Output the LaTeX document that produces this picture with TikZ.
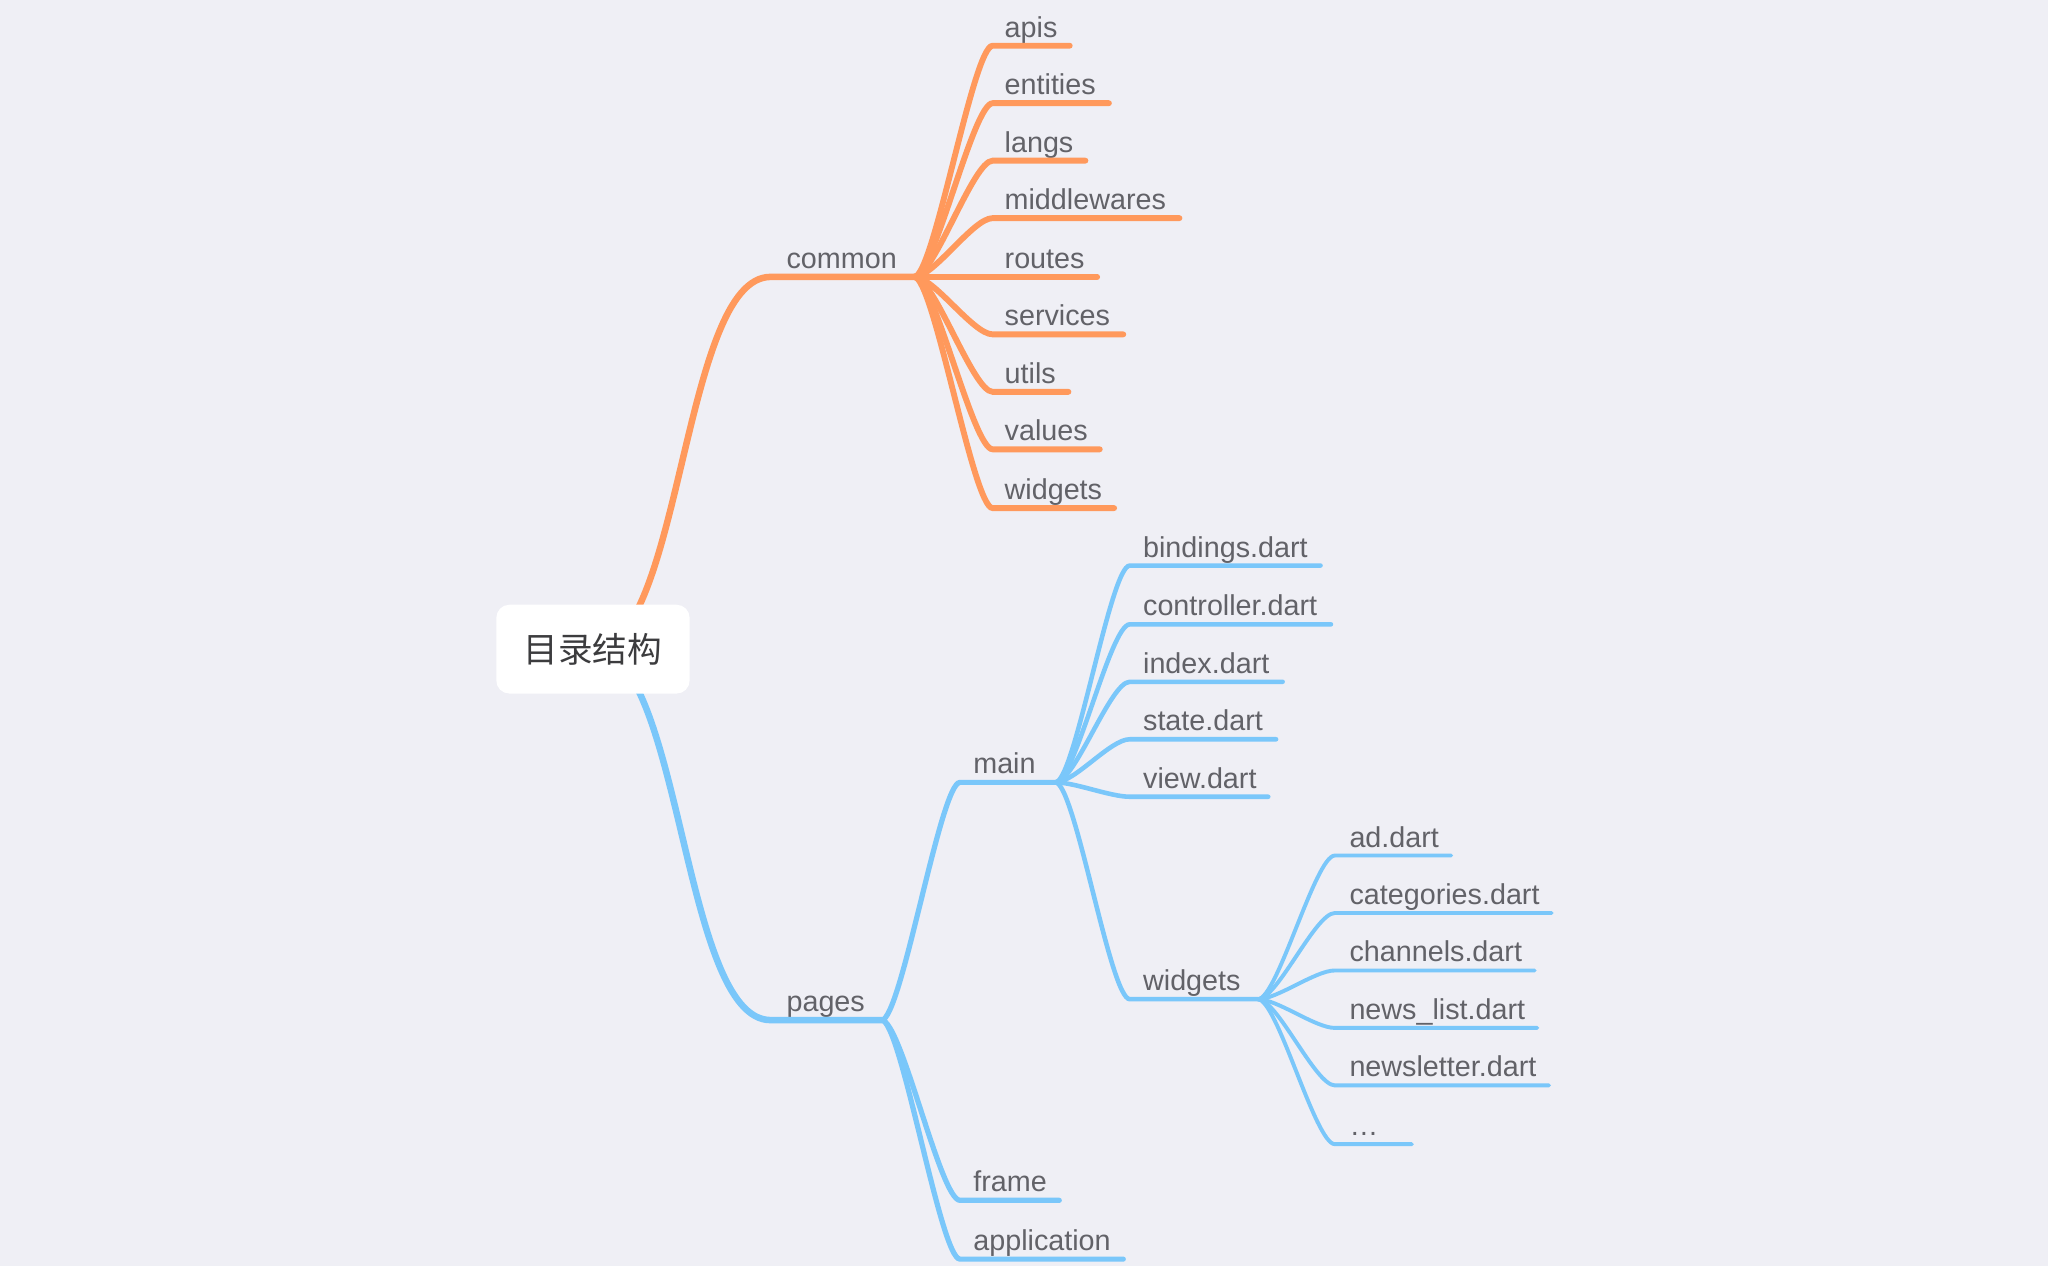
\documentclass[tikz,border=0pt]{standalone}
\usepackage{fontspec}
\setmainfont{Liberation Sans}
\newfontfamily\cjkfont{Noto Sans CJK SC}
\usepackage{tikz}

\definecolor{bgcol}{RGB}{239,239,245}
\definecolor{labelgray}{RGB}{98,98,104}
\definecolor{rootgray}{RGB}{60,60,62}
\definecolor{branchorange}{RGB}{255,153,92}
\definecolor{branchblue}{RGB}{122,199,250}

\tikzset{
  topic/.style={anchor=base west, inner sep=0pt, text=labelgray, font=\fontsize{22}{26}\selectfont},
  rootbox/.style={rectangle, fill=white, rounded corners=10pt, minimum width=148pt, minimum height=68pt,
    text=rootgray, font=\cjkfont\fontsize{26.5}{30}\selectfont},
  orangemain/.style={draw=branchorange, line width=5pt, line cap=round},
  orangesub/.style={draw=branchorange, line width=4.5pt, line cap=round},
  bluemain/.style={draw=branchblue, line width=5pt, line cap=round},
  bluesub/.style={draw=branchblue, line width=4pt, line cap=round},
  bluefile/.style={draw=branchblue, line width=3.5pt, line cap=round},
  bluewidget/.style={draw=branchblue, line width=3pt, line cap=round}
}

\begin{document}
\begin{tikzpicture}[x=1pt, y=-1pt]
    \fill[bgcol] (0,0) rectangle (1568,969.3);
    \useasboundingbox (0,0) rectangle (1568,969.3);

    % centre of the root box
    \coordinate (hub) at (454,497);

    % first level
    \node[topic] (common) at (602,205.5) {common};
    \coordinate (common-a) at (590,212); \coordinate (common-b) at (700,212);
    \node[topic] (pages) at (602,774.5) {pages};
    \coordinate (pages-a) at (590,781); \coordinate (pages-b) at (675,781);

    \draw[orangemain] (hub) .. controls +(68,0) and +(-68,0) .. (common-a) -- (common-b);
    \draw[bluemain] (hub) .. controls +(68,0) and +(-68,0) .. (pages-a) -- (pages-b);

    % common
    \node[topic] (apis) at (769,28.5) {apis};
    \coordinate (apis-a) at (760,35); \coordinate (apis-b) at (819,35);
    \node[topic] (entities) at (769,72.5) {entities};
    \coordinate (entities-a) at (760,79); \coordinate (entities-b) at (849,79);
    \node[topic] (langs) at (769,116.5) {langs};
    \coordinate (langs-a) at (760,123); \coordinate (langs-b) at (831,123);
    \node[topic] (middlewares) at (769,160.5) {middlewares};
    \coordinate (middlewares-a) at (760,167); \coordinate (middlewares-b) at (903,167);
    \node[topic] (routes) at (769,205.5) {routes};
    \coordinate (routes-a) at (760,212); \coordinate (routes-b) at (840,212);
    \node[topic] (services) at (769,249.5) {services};
    \coordinate (services-a) at (760,256); \coordinate (services-b) at (860,256);
    \node[topic] (utils) at (769,293.5) {utils};
    \coordinate (utils-a) at (760,300); \coordinate (utils-b) at (818,300);
    \node[topic] (values) at (769,337.5) {values};
    \coordinate (values-a) at (760,344); \coordinate (values-b) at (842,344);
    \node[topic] (cwidgets) at (769,382.5) {widgets};
    \coordinate (cwidgets-a) at (760,389); \coordinate (cwidgets-b) at (853,389);

    \draw[orangesub] (common-b) .. controls +(15,0) and +(-15,0) .. (apis-a) -- (apis-b);
    \draw[orangesub] (common-b) .. controls +(15,0) and +(-15,0) .. (entities-a) -- (entities-b);
    \draw[orangesub] (common-b) .. controls +(15,0) and +(-15,0) .. (langs-a) -- (langs-b);
    \draw[orangesub] (common-b) .. controls +(15,0) and +(-15,0) .. (middlewares-a) -- (middlewares-b);
    \draw[orangesub] (common-b) -- (routes-a) -- (routes-b);
    \draw[orangesub] (common-b) .. controls +(15,0) and +(-15,0) .. (services-a) -- (services-b);
    \draw[orangesub] (common-b) .. controls +(15,0) and +(-15,0) .. (utils-a) -- (utils-b);
    \draw[orangesub] (common-b) .. controls +(15,0) and +(-15,0) .. (values-a) -- (values-b);
    \draw[orangesub] (common-b) .. controls +(15,0) and +(-15,0) .. (cwidgets-a) -- (cwidgets-b);

    % pages
    \node[topic] (main) at (745,592.5) {main};
    \coordinate (main-a) at (735,599); \coordinate (main-b) at (808,599);
    \node[topic] (frame) at (745,912.5) {frame};
    \coordinate (frame-a) at (735,919); \coordinate (frame-b) at (811,919);
    \node[topic] (application) at (745,957.5) {application};
    \coordinate (application-a) at (735,964); \coordinate (application-b) at (860,964);

    \draw[bluesub] (pages-b) .. controls +(15,0) and +(-15,0) .. (main-a) -- (main-b);
    \draw[bluesub] (pages-b) .. controls +(15,0) and +(-15,0) .. (frame-a) -- (frame-b);
    \draw[bluesub] (pages-b) .. controls +(15,0) and +(-15,0) .. (application-a) -- (application-b);

    % main
    \node[topic] (bindings) at (875,426.5) {bindings.dart};
    \coordinate (bindings-a) at (865,433); \coordinate (bindings-b) at (1011,433);
    \node[topic] (controller) at (875,471.5) {controller.dart};
    \coordinate (controller-a) at (865,478); \coordinate (controller-b) at (1019,478);
    \node[topic] (index) at (875,515.5) {index.dart};
    \coordinate (index-a) at (865,522); \coordinate (index-b) at (982,522);
    \node[topic] (state) at (875,559.5) {state.dart};
    \coordinate (state-a) at (865,566); \coordinate (state-b) at (977,566);
    \node[topic] (view) at (875,603.5) {view.dart};
    \coordinate (view-a) at (865,610); \coordinate (view-b) at (971,610);
    \node[topic] (mwidgets) at (875,758.5) {widgets};
    \coordinate (mwidgets-a) at (865,765); \coordinate (mwidgets-b) at (963,765);

    \draw[bluefile] (main-b) .. controls +(15,0) and +(-15,0) .. (bindings-a) -- (bindings-b);
    \draw[bluefile] (main-b) .. controls +(15,0) and +(-15,0) .. (controller-a) -- (controller-b);
    \draw[bluefile] (main-b) .. controls +(15,0) and +(-15,0) .. (index-a) -- (index-b);
    \draw[bluefile] (main-b) .. controls +(15,0) and +(-15,0) .. (state-a) -- (state-b);
    \draw[bluefile] (main-b) .. controls +(15,0) and +(-15,0) .. (view-a) -- (view-b);
    \draw[bluefile] (main-b) .. controls +(15,0) and +(-15,0) .. (mwidgets-a) -- (mwidgets-b);

    % widgets of main
    \node[topic] (ad) at (1033,648.5) {ad.dart};
    \coordinate (ad-a) at (1022,655); \coordinate (ad-b) at (1111,655);
    \node[topic] (categories) at (1033,692.5) {categories.dart};
    \coordinate (categories-a) at (1022,699); \coordinate (categories-b) at (1188,699);
    \node[topic] (channels) at (1033,736.5) {channels.dart};
    \coordinate (channels-a) at (1022,743); \coordinate (channels-b) at (1175,743);
    \node[topic] (newslist) at (1033,780.5) {news\_list.dart};
    \coordinate (newslist-a) at (1022,787); \coordinate (newslist-b) at (1177,787);
    \node[topic] (newsletter) at (1033,824.5) {newsletter.dart};
    \coordinate (newsletter-a) at (1022,831); \coordinate (newsletter-b) at (1186,831);
    \node[topic] (more) at (1033,869.5) {…};
    \coordinate (more-a) at (1022,876); \coordinate (more-b) at (1081,876);

    \draw[bluewidget] (mwidgets-b) .. controls +(15,0) and +(-15,0) .. (ad-a) -- (ad-b);
    \draw[bluewidget] (mwidgets-b) .. controls +(15,0) and +(-15,0) .. (categories-a) -- (categories-b);
    \draw[bluewidget] (mwidgets-b) .. controls +(15,0) and +(-15,0) .. (channels-a) -- (channels-b);
    \draw[bluewidget] (mwidgets-b) .. controls +(15,0) and +(-15,0) .. (newslist-a) -- (newslist-b);
    \draw[bluewidget] (mwidgets-b) .. controls +(15,0) and +(-15,0) .. (newsletter-a) -- (newsletter-b);
    \draw[bluewidget] (mwidgets-b) .. controls +(15,0) and +(-15,0) .. (more-a) -- (more-b);

    % root on top of its two branches
    \node[rootbox] (root) at (hub) {目录结构};
\end{tikzpicture}
\end{document}
